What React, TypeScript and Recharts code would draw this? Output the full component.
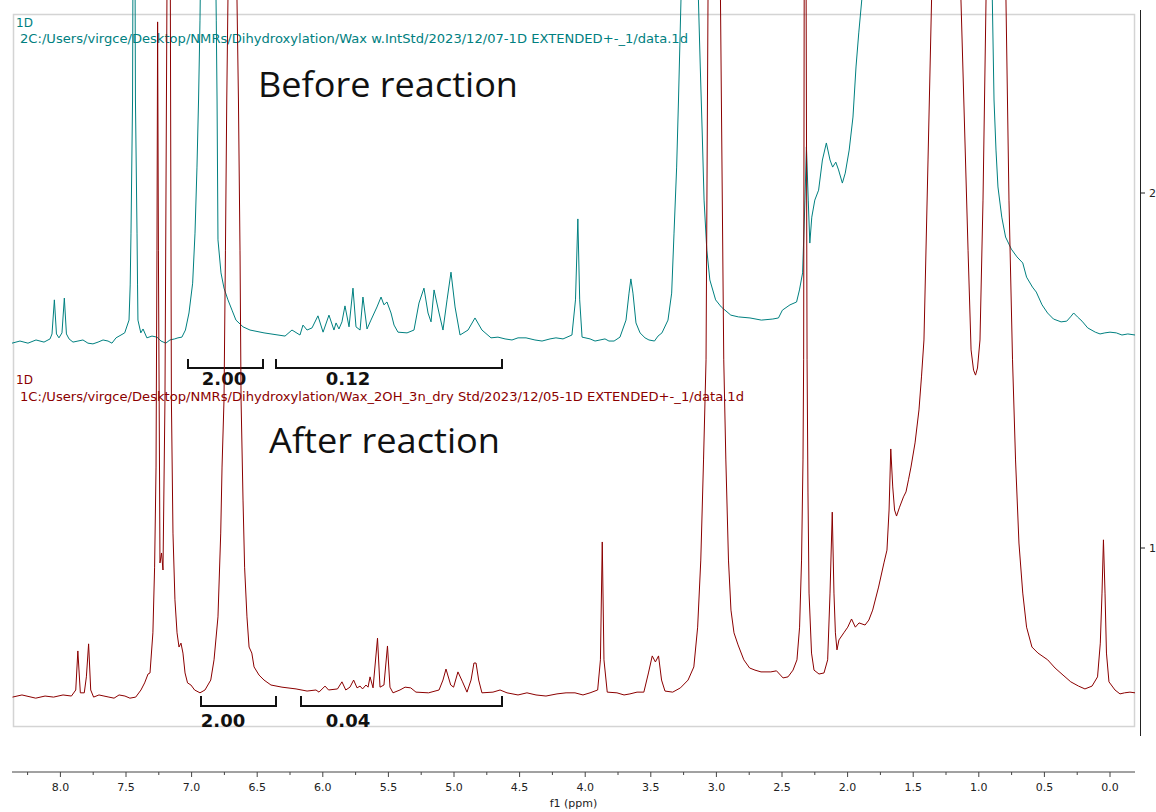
import { LineChart, Line, XAxis, YAxis } from "recharts";

// 1H NMR, wax before dihydroxylation (top trace), chemical shift in ppm
const tealPpm = [
  8.369, 8.308, 8.247, 8.186, 8.125, 8.079, 8.064, 8.046, 8.03, 8.011,
  7.988, 7.97, 7.954, 7.934, 7.904, 7.866, 7.828, 7.79, 7.752, 7.713,
  7.675, 7.637, 7.607, 7.576, 7.538, 7.51, 7.477, 7.468, 7.462, 7.45,
  7.439, 7.428, 7.416, 7.412, 7.409, 7.387, 7.37, 7.341, 7.302, 7.264,
  7.233, 7.197, 7.165, 7.129, 7.104, 7.074, 7.047, 7.02, 6.992, 6.974,
  6.959, 6.947, 6.936, 6.875, 6.812, 6.806, 6.799, 6.776, 6.753, 6.723,
  6.692, 6.662, 6.608, 6.555, 6.448, 6.288, 6.235, 6.174, 6.151, 6.12,
  6.082, 6.037, 5.998, 5.953, 5.915, 5.899, 5.877, 5.854, 5.831, 5.8,
  5.77, 5.747, 5.716, 5.694, 5.663, 5.633, 5.587, 5.556, 5.534, 5.511,
  5.48, 5.457, 5.427, 5.358, 5.305, 5.267, 5.229, 5.198, 5.175, 5.152,
  5.114, 5.084, 5.053, 5.023, 4.992, 4.954, 4.893, 4.84, 4.787, 4.718,
  4.665, 4.611, 4.558, 4.512, 4.451, 4.383, 4.329, 4.268, 4.223, 4.169,
  4.101, 4.074, 4.056, 4.042, 4.024, 3.963, 3.925, 3.887, 3.849, 3.819,
  3.78, 3.735, 3.689, 3.666, 3.652, 3.636, 3.613, 3.582, 3.544, 3.514,
  3.472, 3.445, 3.415, 3.369, 3.341, 3.323, 3.303, 3.289, 3.27, 3.201,
  3.137, 3.123, 3.108, 3.094, 3.073, 3.05, 3.006, 2.963, 2.89, 2.832,
  2.744, 2.657, 2.57, 2.527, 2.497, 2.439, 2.389, 2.367, 2.343, 2.325,
  2.314, 2.3, 2.288, 2.273, 2.25, 2.221, 2.192, 2.162, 2.134, 2.114,
  2.09, 2.069, 2.04, 2.018, 1.988, 1.959, 1.936, 1.915, 1.892, 1.41,
  0.897, 0.884, 0.869, 0.854, 0.825, 0.796, 0.752, 0.709, 0.665, 0.636,
  0.591, 0.562, 0.518, 0.476, 0.431, 0.373, 0.33, 0.301, 0.277, 0.248,
  0.213, 0.17, 0.112, 0.076, 0.039, 0, -0.048, -0.091, -0.136, -0.191,
];
const tealIntensity = [
  1.577, 1.583, 1.577, 1.586, 1.58, 1.589, 1.603, 1.699, 1.603, 1.592,
  1.606, 1.704, 1.603, 1.589, 1.58, 1.583, 1.586, 1.577, 1.575, 1.58,
  1.586, 1.583, 1.577, 1.592, 1.6, 1.606, 1.642, 1.741, 1.887, 2.262,
  3.6, 2.262, 1.887, 1.741, 1.642, 1.606, 1.617, 1.592, 1.597, 1.594,
  1.583, 1.577, 1.586, 1.589, 1.592, 1.594, 1.614, 1.662, 1.746, 1.887,
  2.073, 2.262, 2.487, 4.5, 2.487, 2.262, 1.868, 1.775, 1.732, 1.699,
  1.67, 1.642, 1.623, 1.614, 1.606, 1.597, 1.614, 1.6, 1.628, 1.614,
  1.62, 1.654, 1.608, 1.656, 1.614, 1.634, 1.617, 1.637, 1.682, 1.623,
  1.732, 1.623, 1.614, 1.707, 1.617, 1.642, 1.679, 1.707, 1.685, 1.693,
  1.662, 1.628, 1.608, 1.606, 1.614, 1.69, 1.732, 1.662, 1.637, 1.727,
  1.662, 1.614, 1.699, 1.777, 1.679, 1.6, 1.614, 1.648, 1.614, 1.592,
  1.594, 1.589, 1.586, 1.592, 1.592, 1.586, 1.583, 1.589, 1.592, 1.589,
  1.6, 1.699, 1.927, 1.699, 1.594, 1.589, 1.583, 1.586, 1.589, 1.583,
  1.583, 1.594, 1.642, 1.718, 1.758, 1.718, 1.634, 1.606, 1.592, 1.586,
  1.583, 1.597, 1.606, 1.642, 1.718, 1.887, 2.073, 2.262, 2.544, 4.5,
  2.544, 2.355, 2.169, 1.98, 1.839, 1.755, 1.699, 1.679, 1.656, 1.651,
  1.648, 1.642, 1.645, 1.648, 1.67, 1.685, 1.693, 1.727, 1.775, 1.98,
  2.13, 1.98, 1.859, 1.932, 1.98, 2.008, 2.093, 2.141, 2.093, 2.073,
  2.087, 2.065, 2.028, 2.056, 2.121, 2.214, 2.355, 2.451, 2.544, 5.0,
  2.544, 2.262, 2.121, 2.017, 1.932, 1.876, 1.842, 1.82, 1.803, 1.763,
  1.735, 1.721, 1.685, 1.662, 1.645, 1.637, 1.639, 1.651, 1.662, 1.651,
  1.639, 1.62, 1.608, 1.603, 1.606, 1.608, 1.606, 1.6, 1.603, 1.6,
];

// 1H NMR, wax after dihydroxylation (bottom trace)
const redPpm = [
  8.365, 8.293, 8.188, 8.117, 8.052, 7.98, 7.916, 7.883, 7.867, 7.848,
  7.818, 7.802, 7.785, 7.769, 7.747, 7.706, 7.668, 7.63, 7.591, 7.553,
  7.508, 7.47, 7.426, 7.386, 7.358, 7.332, 7.317, 7.295, 7.282, 7.271,
  7.264, 7.259, 7.253, 7.241, 7.229, 7.218, 7.203, 7.188, 7.175, 7.162,
  7.154, 7.142, 7.127, 7.111, 7.096, 7.081, 7.066, 7.05, 7.031, 7.005,
  6.977, 6.936, 6.898, 6.854, 6.829, 6.799, 6.778, 6.768, 6.753, 6.742,
  6.732, 6.723, 6.688, 6.654, 6.643, 6.631, 6.623, 6.608, 6.596, 6.578,
  6.562, 6.541, 6.524, 6.486, 6.448, 6.395, 6.311, 6.204, 6.12, 6.052,
  6.029, 5.983, 5.956, 5.888, 5.854, 5.825, 5.793, 5.765, 5.739, 5.716,
  5.697, 5.671, 5.655, 5.64, 5.617, 5.583, 5.564, 5.534, 5.507, 5.488,
  5.465, 5.412, 5.373, 5.33, 5.29, 5.194, 5.114, 5.084, 5.061, 5.025,
  5.003, 4.97, 4.935, 4.901, 4.87, 4.848, 4.832, 4.812, 4.787, 4.703,
  4.649, 4.596, 4.512, 4.444, 4.375, 4.299, 4.215, 4.146, 4.078, 4.017,
  3.963, 3.905, 3.884, 3.87, 3.857, 3.832, 3.758, 3.704, 3.659, 3.605,
  3.553, 3.518, 3.489, 3.465, 3.441, 3.418, 3.392, 3.333, 3.274, 3.216,
  3.172, 3.143, 3.119, 3.098, 3.079, 3.064, 3.018, 2.969, 2.944, 2.928,
  2.908, 2.889, 2.866, 2.835, 2.791, 2.747, 2.706, 2.66, 2.585, 2.542,
  2.512, 2.492, 2.454, 2.416, 2.386, 2.366, 2.351, 2.34, 2.335, 2.331,
  2.323, 2.316, 2.309, 2.302, 2.294, 2.275, 2.256, 2.218, 2.18, 2.152,
  2.134, 2.117, 2.104, 2.093, 2.081, 2.066, 2.029, 1.999, 1.97, 1.941,
  1.913, 1.867, 1.838, 1.809, 1.764, 1.723, 1.7, 1.684, 1.671, 1.656,
  1.642, 1.627, 1.604, 1.574, 1.555, 1.536, 1.517, 1.486, 1.456, 1.437,
  1.418, 1.387, 1.36, 1.25, 1.136, 1.082, 1.059, 1.04, 1.025, 1.01,
  0.991, 0.968, 0.945, 0.869, 0.793, 0.77, 0.743, 0.72, 0.694, 0.665,
  0.636, 0.595, 0.549, 0.475, 0.419, 0.358, 0.299, 0.24, 0.191, 0.137,
  0.095, 0.074, 0.061, 0.05, 0.038, 0.027, 0.008, -0.038, -0.076, -0.111,
  -0.152, -0.191,
];
const redIntensity = [
  0.58, 0.586, 0.577, 0.583, 0.58, 0.586, 0.583, 0.6, 0.71, 0.592,
  0.592, 0.637, 0.73, 0.6, 0.58, 0.586, 0.583, 0.58, 0.577, 0.586,
  0.583, 0.577, 0.58, 0.6, 0.62, 0.645, 0.648, 0.761, 0.946, 1.228,
  1.839, 2.482, 1.839, 0.958, 0.986, 0.938, 1.417, 2.544, 3.6, 2.544,
  1.417, 1.042, 0.854, 0.761, 0.721, 0.732, 0.704, 0.648, 0.62, 0.614,
  0.6, 0.592, 0.6, 0.628, 0.685, 0.806, 1.042, 1.228, 1.417, 1.839,
  2.262, 2.544, 4.5, 2.544, 2.262, 1.839, 1.417, 1.135, 0.946, 0.806,
  0.721, 0.704, 0.665, 0.642, 0.628, 0.614, 0.608, 0.603, 0.597, 0.6,
  0.594, 0.611, 0.6, 0.603, 0.623, 0.6, 0.608, 0.628, 0.606, 0.611,
  0.603, 0.614, 0.608, 0.637, 0.606, 0.746, 0.608, 0.614, 0.724, 0.608,
  0.592, 0.6, 0.608, 0.606, 0.594, 0.592, 0.6, 0.628, 0.659, 0.614,
  0.608, 0.651, 0.623, 0.594, 0.628, 0.676, 0.676, 0.628, 0.592, 0.594,
  0.6, 0.592, 0.586, 0.592, 0.586, 0.583, 0.589, 0.592, 0.592, 0.586,
  0.592, 0.6, 0.685, 1.017, 0.685, 0.594, 0.592, 0.586, 0.589, 0.594,
  0.594, 0.648, 0.696, 0.679, 0.696, 0.628, 0.597, 0.594, 0.606, 0.628,
  0.665, 0.777, 0.966, 1.248, 1.53, 2.544, 4.5, 2.544, 1.53, 1.248,
  0.966, 0.825, 0.761, 0.727, 0.685, 0.662, 0.656, 0.651, 0.651, 0.654,
  0.642, 0.634, 0.637, 0.656, 0.685, 0.777, 0.966, 1.248, 1.53, 2.544,
  3.5, 2.544, 1.53, 1.155, 0.873, 0.704, 0.656, 0.645, 0.648, 0.685,
  0.873, 1.101, 0.873, 0.761, 0.713, 0.741, 0.761, 0.777, 0.8, 0.777,
  0.789, 0.783, 0.797, 0.825, 0.89, 0.958, 0.994, 1.107, 1.279, 1.172,
  1.107, 1.09, 1.115, 1.144, 1.158, 1.192, 1.228, 1.296, 1.389, 1.482,
  1.586, 2.093, 2.544, 4.5, 2.544, 1.839, 1.558, 1.501, 1.487, 1.507,
  1.586, 1.98, 2.544, 4.5, 2.544, 1.98, 1.53, 1.248, 1.014, 0.873,
  0.777, 0.721, 0.704, 0.685, 0.662, 0.642, 0.623, 0.611, 0.603, 0.611,
  0.637, 0.732, 0.873, 1.023, 0.873, 0.704, 0.623, 0.6, 0.589, 0.592,
  0.594, 0.592,
];

const ppmTicks = [
  8.25, 8, 7.75, 7.5, 7.25, 7, 6.75, 6.5, 6.25, 6, 5.75, 5.5, 5.25, 5, 4.75, 4.5, 4.25,
  4, 3.75, 3.5, 3.25, 3, 2.75, 2.5, 2.25, 2, 1.75, 1.5, 1.25, 1, 0.75, 0.5, 0.25, 0,
];
const intensityTicks = [1, 2];

const beforeSpectrum = tealPpm.map((ppm, i) => ({ ppm, intensity: tealIntensity[i] }));
const afterSpectrum = redPpm.map((ppm, i) => ({ ppm, intensity: redIntensity[i] }));

const TEAL = "#008080";
const MAROON = "#8b0000";
const SANS = "'DejaVu Sans', Verdana, sans-serif";

function PpmTick(props: any) {
  const { x, y, payload } = props;
  const v = payload.value as number;
  const major = Math.abs(v * 2 - Math.round(v * 2)) < 1e-6;
  return (
    <g>
      <line x1={x} x2={x} y1={y} y2={y + (major ? 5 : 3)} stroke="#444" />
      {major && (
        <text x={x} y={y + 19} textAnchor="middle" fontSize={11} fill="#222" fontFamily={SANS}>
          {v.toFixed(1)}
        </text>
      )}
    </g>
  );
}

function IntensityTick(props: any) {
  const { x, y, payload } = props;
  return (
    <g>
      <line x1={x + 6} x2={x + 10} y1={y} y2={y} stroke="#222" />
      <text x={x + 14} y={y + 4} fontSize={11} fill="#222" fontFamily={SANS}>
        {payload.value}
      </text>
    </g>
  );
}

function Annotations() {
  return (
    <svg width={1156} height={812} style={{ position: "absolute", left: 0, top: 0 }}>
      <rect x={13.5} y={14.5} width={1121} height={712} fill="none" stroke="#d4d4d4" strokeWidth={1.5} />
      <line x1={1140.5} x2={1140.5} y1={10} y2={736} stroke="#222" />

      <text x={16} y={27} fill={TEAL} fontSize={12} fontFamily={SANS}>1D</text>
      <text x={20} y={43} fill={TEAL} fontSize={12} fontFamily={SANS} textLength={668} lengthAdjust="spacingAndGlyphs">
        2C:/Users/virgce/Desktop/NMRs/Dihydroxylation/Wax w.IntStd/2023/12/07-1D EXTENDED+-_1/data.1d
      </text>
      <text x={258} y={97} fontSize={35} fill="#111" fontFamily="'Open Sans', sans-serif" textLength={260} lengthAdjust="spacingAndGlyphs">
        Before reaction
      </text>

      <text x={16} y={384} fill={MAROON} fontSize={12} fontFamily={SANS}>1D</text>
      <text x={20} y={401} fill={MAROON} fontSize={12} fontFamily={SANS} textLength={724} lengthAdjust="spacingAndGlyphs">
        1C:/Users/virgce/Desktop/NMRs/Dihydroxylation/Wax_2OH_3n_dry Std/2023/12/05-1D EXTENDED+-_1/data.1d
      </text>
      <text x={269} y={453} fontSize={35} fill="#111" fontFamily="'Open Sans', sans-serif" textLength={231} lengthAdjust="spacingAndGlyphs">
        After reaction
      </text>

      {/* integration brackets */}
      <g fill="none" stroke="#111" strokeWidth={2}>
        <path d="M188 359 V368 H263 V359" />
        <path d="M276 359 V368 H502 V359" />
        <path d="M201 696 V706 H276 V696" />
        <path d="M301 696 V706 H502 V696" />
      </g>
      <g fontFamily={SANS} fontWeight="bold" fontSize={18} fill="#111" textAnchor="middle">
        <text x={224} y={385}>2.00</text>
        <text x={348} y={385}>0.12</text>
        <text x={223} y={727}>2.00</text>
        <text x={348} y={727}>0.04</text>
      </g>
    </svg>
  );
}

export default function App() {
  return (
    <div style={{ position: "relative", width: 1156, height: 812, fontFamily: SANS }}>
      <style>{"body{margin:0}"}</style>
      <Annotations />
      <div style={{ position: "absolute", left: 0, top: 0 }}>
        <LineChart width={1156} height={812} margin={{ top: 0, right: 0, bottom: 0, left: 12 }}>
          <XAxis
            type="number"
            dataKey="ppm"
            domain={[-0.1905, 8.3689]}
            reversed
            allowDataOverflow
            ticks={ppmTicks}
            interval={0}
            height={40}
            tickSize={0}
            tickMargin={0}
            tickLine={false}
            axisLine={{ stroke: "#444" }}
            tick={<PpmTick />}
            label={{ value: "f1 (ppm)", position: "insideBottom", offset: 5, fill: "#222", fontSize: 11 }}
          />
          <YAxis
            type="number"
            orientation="right"
            dataKey="intensity"
            domain={[0.369, 2.5437]}
            allowDataOverflow
            ticks={intensityTicks}
            interval={0}
            width={21}
            tickSize={0}
            tickMargin={0}
            tickLine={false}
            axisLine={false}
            tick={<IntensityTick />}
          />
          <Line
            data={beforeSpectrum}
            dataKey="intensity"
            type="linear"
            stroke={TEAL}
            strokeWidth={1}
            dot={false}
            activeDot={false}
            isAnimationActive={false}
          />
          <Line
            data={afterSpectrum}
            dataKey="intensity"
            type="linear"
            stroke={MAROON}
            strokeWidth={1}
            dot={false}
            activeDot={false}
            isAnimationActive={false}
          />
        </LineChart>
      </div>
    </div>
  );
}
